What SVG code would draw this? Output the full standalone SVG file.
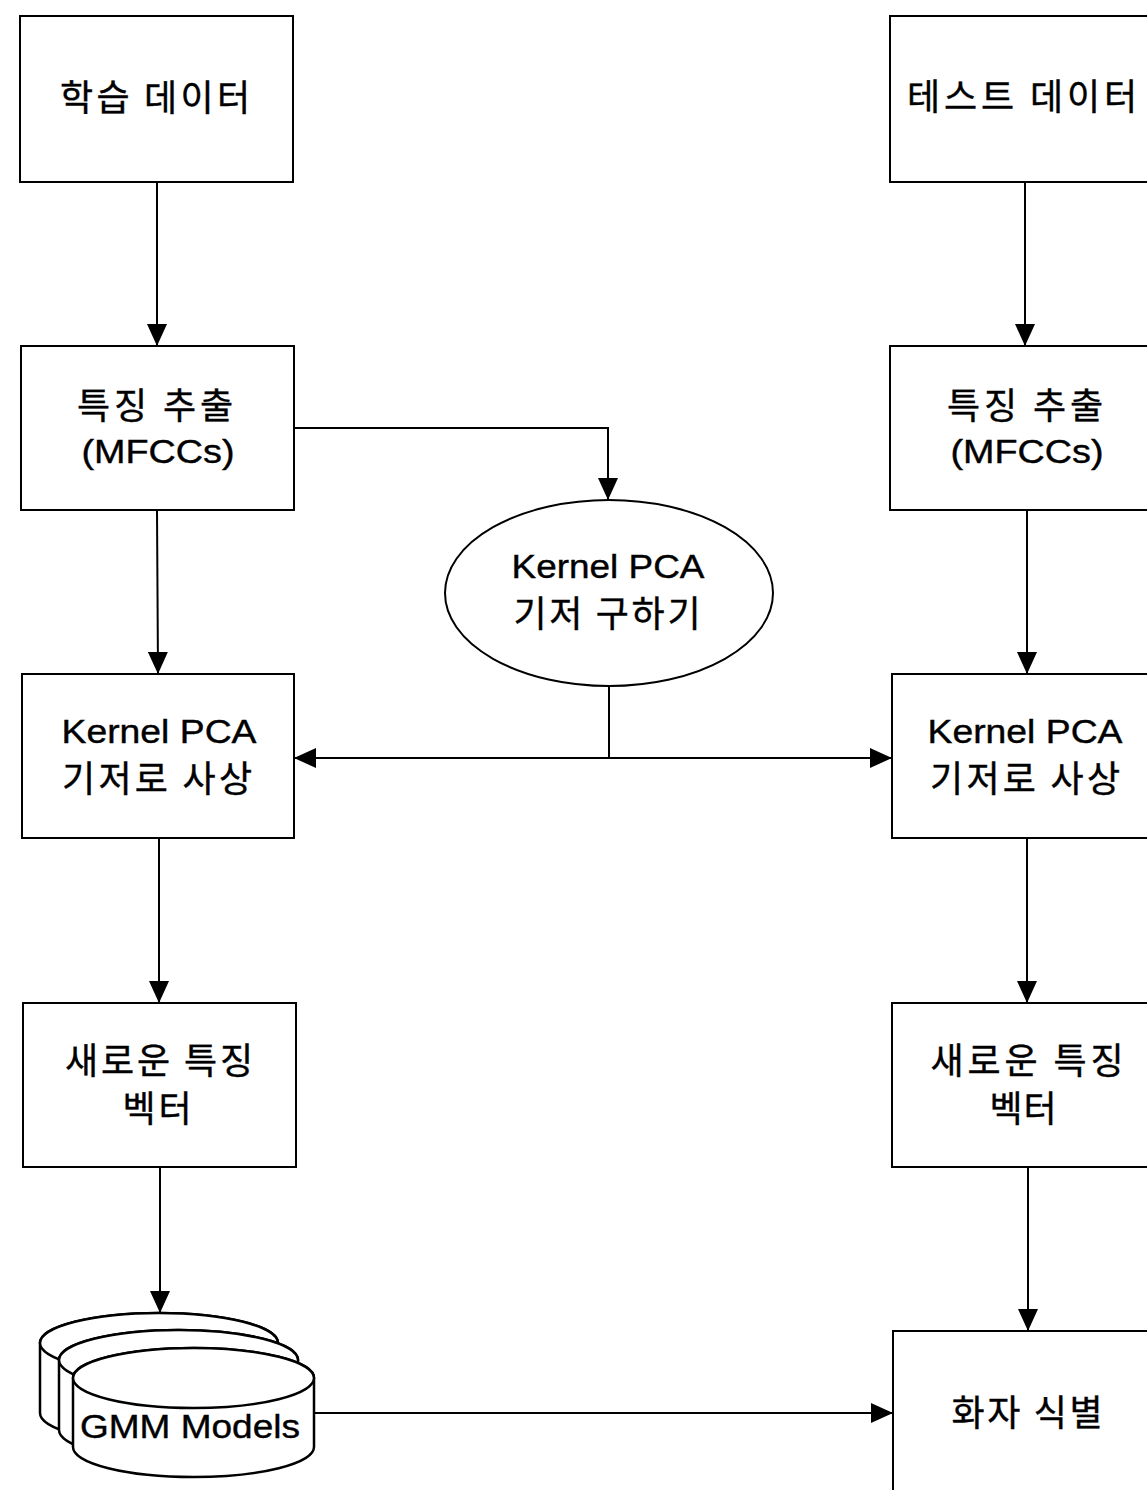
<svg xmlns="http://www.w3.org/2000/svg" width="1147" height="1490" viewBox="0 0 1147 1490">
<defs>
<marker id="ah" markerUnits="userSpaceOnUse" markerWidth="22" markerHeight="20" refX="22" refY="10" orient="auto">
<path d="M0,0 L22,10 L0,20 Z" fill="#000"/>
</marker>
<style>
.box{fill:#fff;stroke:#000;stroke-width:2}
.cyl{fill:#fff;stroke:#000;stroke-width:2.5}
.ln{fill:none;stroke:#000;stroke-width:2}
.arr{fill:none;stroke:#000;stroke-width:2;marker-end:url(#ah)}
.ko{font-family:"Noto Sans CJK KR","Liberation Sans",sans-serif;font-size:36px;fill:#000;stroke:#000;stroke-width:0.4}
.en{font-family:"Liberation Sans","Noto Sans CJK KR",sans-serif;font-size:33px;fill:#000;stroke:#000;stroke-width:0.4}
</style>
</defs>
<rect width="1147" height="1490" fill="#fff"/>

<g id="train-data"><rect class="box" x="20" y="16" width="273" height="166"/>
<text class="ko" x="155" y="111" text-anchor="middle" textLength="190">학습 데이터</text></g>

<g id="test-data"><rect class="box" x="890" y="16" width="300" height="166"/>
<text class="ko" x="1022" y="110" text-anchor="middle" textLength="230">테스트 데이터</text></g>

<g id="feat-left"><rect class="box" x="21" y="346" width="273" height="164"/>
<text class="ko" x="155" y="419" text-anchor="middle" textLength="156">특징 추출</text>
<text class="en" x="158" y="463" text-anchor="middle" font-size="35" textLength="153" lengthAdjust="spacingAndGlyphs">(MFCCs)</text></g>

<g id="feat-right"><rect class="box" x="890" y="346" width="300" height="164"/>
<text class="ko" x="1025" y="419" text-anchor="middle" textLength="156">특징 추출</text>
<text class="en" x="1027" y="463" text-anchor="middle" font-size="35" textLength="153" lengthAdjust="spacingAndGlyphs">(MFCCs)</text></g>

<g id="kpca-basis"><ellipse class="box" cx="609" cy="593" rx="164" ry="93"/>
<text class="en" x="608" y="578" text-anchor="middle" font-size="31" textLength="193" lengthAdjust="spacingAndGlyphs">Kernel PCA</text>
<text class="ko" x="607" y="627" text-anchor="middle" textLength="187">기저 구하기</text></g>

<g id="proj-left"><rect class="box" x="22" y="674" width="272" height="164"/>
<text class="en" x="159" y="743" text-anchor="middle" font-size="31" textLength="195" lengthAdjust="spacingAndGlyphs">Kernel PCA</text>
<text class="ko" x="157" y="792" text-anchor="middle" textLength="190">기저로 사상</text></g>

<g id="proj-right"><rect class="box" x="892" y="674" width="300" height="164"/>
<text class="en" x="1025" y="743" text-anchor="middle" font-size="31" textLength="195" lengthAdjust="spacingAndGlyphs">Kernel PCA</text>
<text class="ko" x="1025" y="792" text-anchor="middle" textLength="190">기저로 사상</text></g>

<g id="newfeat-left"><rect class="box" x="23" y="1003" width="273" height="164"/>
<text class="ko" x="159" y="1074" text-anchor="middle" textLength="188">새로운 특징</text>
<text class="ko" x="157" y="1122" text-anchor="middle" textLength="69">벡터</text></g>

<g id="newfeat-right"><rect class="box" x="892" y="1003" width="300" height="164"/>
<text class="ko" x="1027" y="1074" text-anchor="middle" textLength="193">새로운 특징</text>
<text class="ko" x="1023" y="1122" text-anchor="middle" textLength="67">벡터</text></g>

<g id="gmm-models">
<path class="cyl" d="M40,1343 L40,1413 A119,30 0 0 0 278,1413 L278,1343 A119,30 0 0 0 40,1343 Z"/>
<ellipse class="cyl" cx="159" cy="1343" rx="119" ry="30"/>
<path class="cyl" d="M59,1360 L59,1430 A119.5,30 0 0 0 298,1430 L298,1360 A119.5,30 0 0 0 59,1360 Z"/>
<ellipse class="cyl" cx="178.5" cy="1360" rx="119.5" ry="30"/>
<path class="cyl" d="M73,1378 L73,1447 A120.5,30 0 0 0 314,1447 L314,1378 A120.5,30 0 0 0 73,1378 Z"/>
<ellipse class="cyl" cx="193.5" cy="1378" rx="120.5" ry="30"/>
<text class="en" x="190" y="1438" text-anchor="middle" font-size="35" textLength="220" lengthAdjust="spacingAndGlyphs">GMM Models</text>
</g>

<g id="speaker-id"><rect class="box" x="893" y="1331" width="300" height="200"/>
<text class="ko" x="1027" y="1426" text-anchor="middle" textLength="151">화자 식별</text></g>

<g id="connectors">
<path class="arr" d="M157,182 L157,346"/>
<path class="arr" d="M294,428 L608,428 L608,500"/>
<path class="arr" d="M157,510 L158,674"/>
<path class="ln" d="M609,686 L609,758"/>
<path class="arr" d="M609,758 L294,758"/>
<path class="arr" d="M609,758 L892,758"/>
<path class="arr" d="M159,838 L159,1003"/>
<path class="arr" d="M160,1167 L160,1313"/>
<path class="arr" d="M314,1413 L893,1413"/>
<path class="arr" d="M1025,182 L1025,346"/>
<path class="arr" d="M1027,510 L1027,674"/>
<path class="arr" d="M1027,838 L1027,1003"/>
<path class="arr" d="M1028,1167 L1028,1331"/>
</g>
</svg>
